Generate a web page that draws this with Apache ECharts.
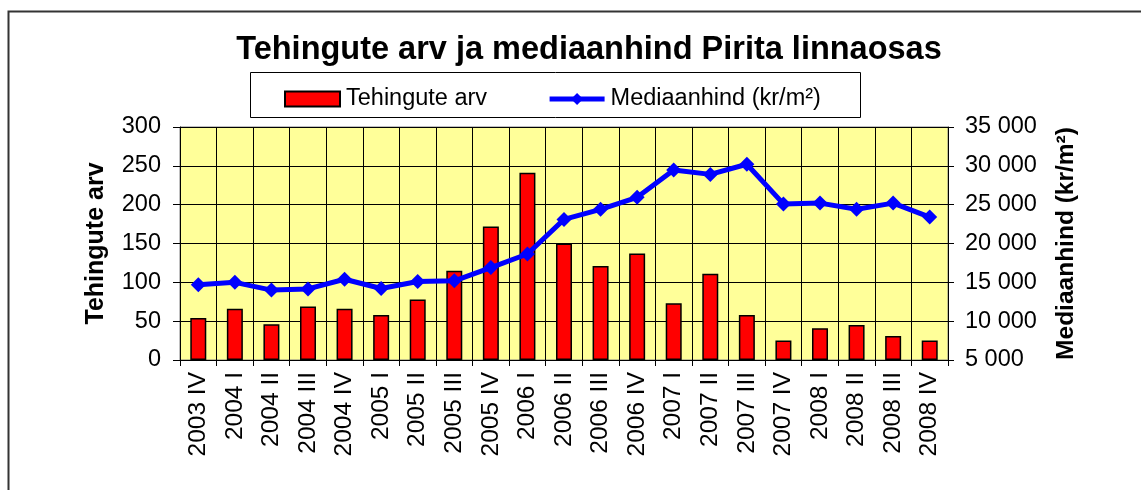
<!DOCTYPE html>
<html>
<head>
<meta charset="utf-8">
<script src="https://cdn.jsdelivr.net/npm/echarts@6/dist/echarts.min.js"></script>
<style>
  html, body { margin: 0; padding: 0; background: #fff; }
  #chart { width: 1141px; height: 490px; }
</style>
</head>
<body>
<div id="chart"></div>
<script>
// Quarterly categories
const quarters = [
  '2003 IV', '2004 I', '2004 II', '2004 III', '2004 IV',
  '2005 I', '2005 II', '2005 III', '2005 IV',
  '2006 I', '2006 II', '2006 III', '2006 IV',
  '2007 I', '2007 II', '2007 III', '2007 IV',
  '2008 I', '2008 II', '2008 III', '2008 IV'
];

// Number of transactions per quarter
const dealCount = [54, 66, 46, 69, 66, 58, 78, 115, 172, 241, 150, 121, 137, 73, 111, 58, 25, 41, 45, 31, 25];

// Median price (kr/m²)
const medianPrice = [14700, 15000, 14000, 14150, 15400, 14200, 15100, 15200, 16900, 18650,
  23100, 24400, 25950, 29450, 28900, 30200, 25100, 25200, 24400, 25200, 23400];

const seriesNames = ['Tehingute arv', 'Mediaanhind (kr/m²)'];

const FONT = '"Liberation Sans", Arial, sans-serif';

function spaced(v) {
  return String(v).replace(/\B(?=(\d{3})+(?!\d))/g, ' ');
}

const chart = echarts.init(document.getElementById('chart'), null, { renderer: 'canvas' });

chart.setOption({
  animation: false,
  backgroundColor: '#ffffff',
  textStyle: { fontFamily: FONT },
  title: {
    text: 'Tehingute arv ja mediaanhind Pirita linnaosas',
    left: 584,
    textAlign: 'center',
    top: 29,
    textStyle: { fontFamily: FONT, fontSize: 32.5, fontWeight: 'bold', color: '#000' }
  },
  graphic: [
    // outer frame
    { type: 'rect', shape: { x: 8.5, y: 11.5, width: 1200, height: 600 },
      style: { fill: null, stroke: '#333', lineWidth: 2 }, z: 0, silent: true },
    // legend frame
    { type: 'rect', shape: { x: 250.5, y: 72.5, width: 610, height: 45 },
      style: { fill: '#fff', stroke: '#000', lineWidth: 1 }, z: 1, silent: true }
  ],
  legend: {
    data: [
      { name: seriesNames[0], icon: 'rect' },
      { name: seriesNames[1], lineStyle: { width: 5 } }
    ],
    left: 279,
    top: 82,
    itemWidth: 55,
    itemHeight: 15,
    itemGap: 60,
    z: 5,
    textStyle: { fontFamily: FONT, fontSize: 23.5, color: '#000', padding: [0, 0, 0, 1] }
  },
  grid: {
    left: 180, top: 127, width: 768, height: 233,
    show: true, backgroundColor: '#FFFF99', borderColor: '#808080', borderWidth: 1
  },
  xAxis: {
    type: 'category',
    data: quarters,
    boundaryGap: true,
    axisLine: { lineStyle: { color: '#000', width: 1 } },
    axisTick: { show: true, length: 6, lineStyle: { color: '#000' } },
    splitLine: { show: true, lineStyle: { color: '#000', width: 1 } },
    axisLabel: { rotate: 90, interval: 0, fontSize: 24.5, color: '#000', fontFamily: FONT, margin: 12 }
  },
  yAxis: [
    {
      type: 'value', min: 0, max: 300, interval: 50,
      name: 'Tehingute arv', nameLocation: 'middle', nameGap: 71, nameRotate: 90,
      nameTextStyle: { fontFamily: FONT, fontSize: 25, fontWeight: 'bold', color: '#000' },
      axisLine: { show: true, lineStyle: { color: '#000' } },
      axisTick: { show: true, length: 7, lineStyle: { color: '#000' } },
      splitLine: { show: true, lineStyle: { color: '#000', width: 1 } },
      axisLabel: { fontSize: 23.5, color: '#000', fontFamily: FONT, margin: 19 }
    },
    {
      type: 'value', min: 5000, max: 35000, interval: 5000,
      name: 'Mediaanhind (kr/m²)', nameLocation: 'middle', nameGap: 106, nameRotate: 90,
      nameTextStyle: { fontFamily: FONT, fontSize: 24.5, fontWeight: 'bold', color: '#000' },
      axisLine: { show: true, lineStyle: { color: '#000' } },
      axisTick: { show: true, length: 6, lineStyle: { color: '#000' } },
      splitLine: { show: false },
      axisLabel: { fontSize: 23.5, color: '#000', fontFamily: FONT, margin: 17, formatter: spaced }
    }
  ],
  series: [
    {
      name: seriesNames[0],
      type: 'bar',
      yAxisIndex: 0,
      data: dealCount,
      barWidth: 16,
      itemStyle: { color: '#FF0000', borderColor: '#000', borderWidth: 1.5 }
    },
    {
      name: seriesNames[1],
      type: 'line',
      yAxisIndex: 1,
      data: medianPrice,
      symbol: 'diamond',
      symbolSize: 15,
      lineStyle: { color: '#0000FF', width: 5 },
      itemStyle: { color: '#0000FF' },
      z: 3
    }
  ]
});
</script>
</body>
</html>
